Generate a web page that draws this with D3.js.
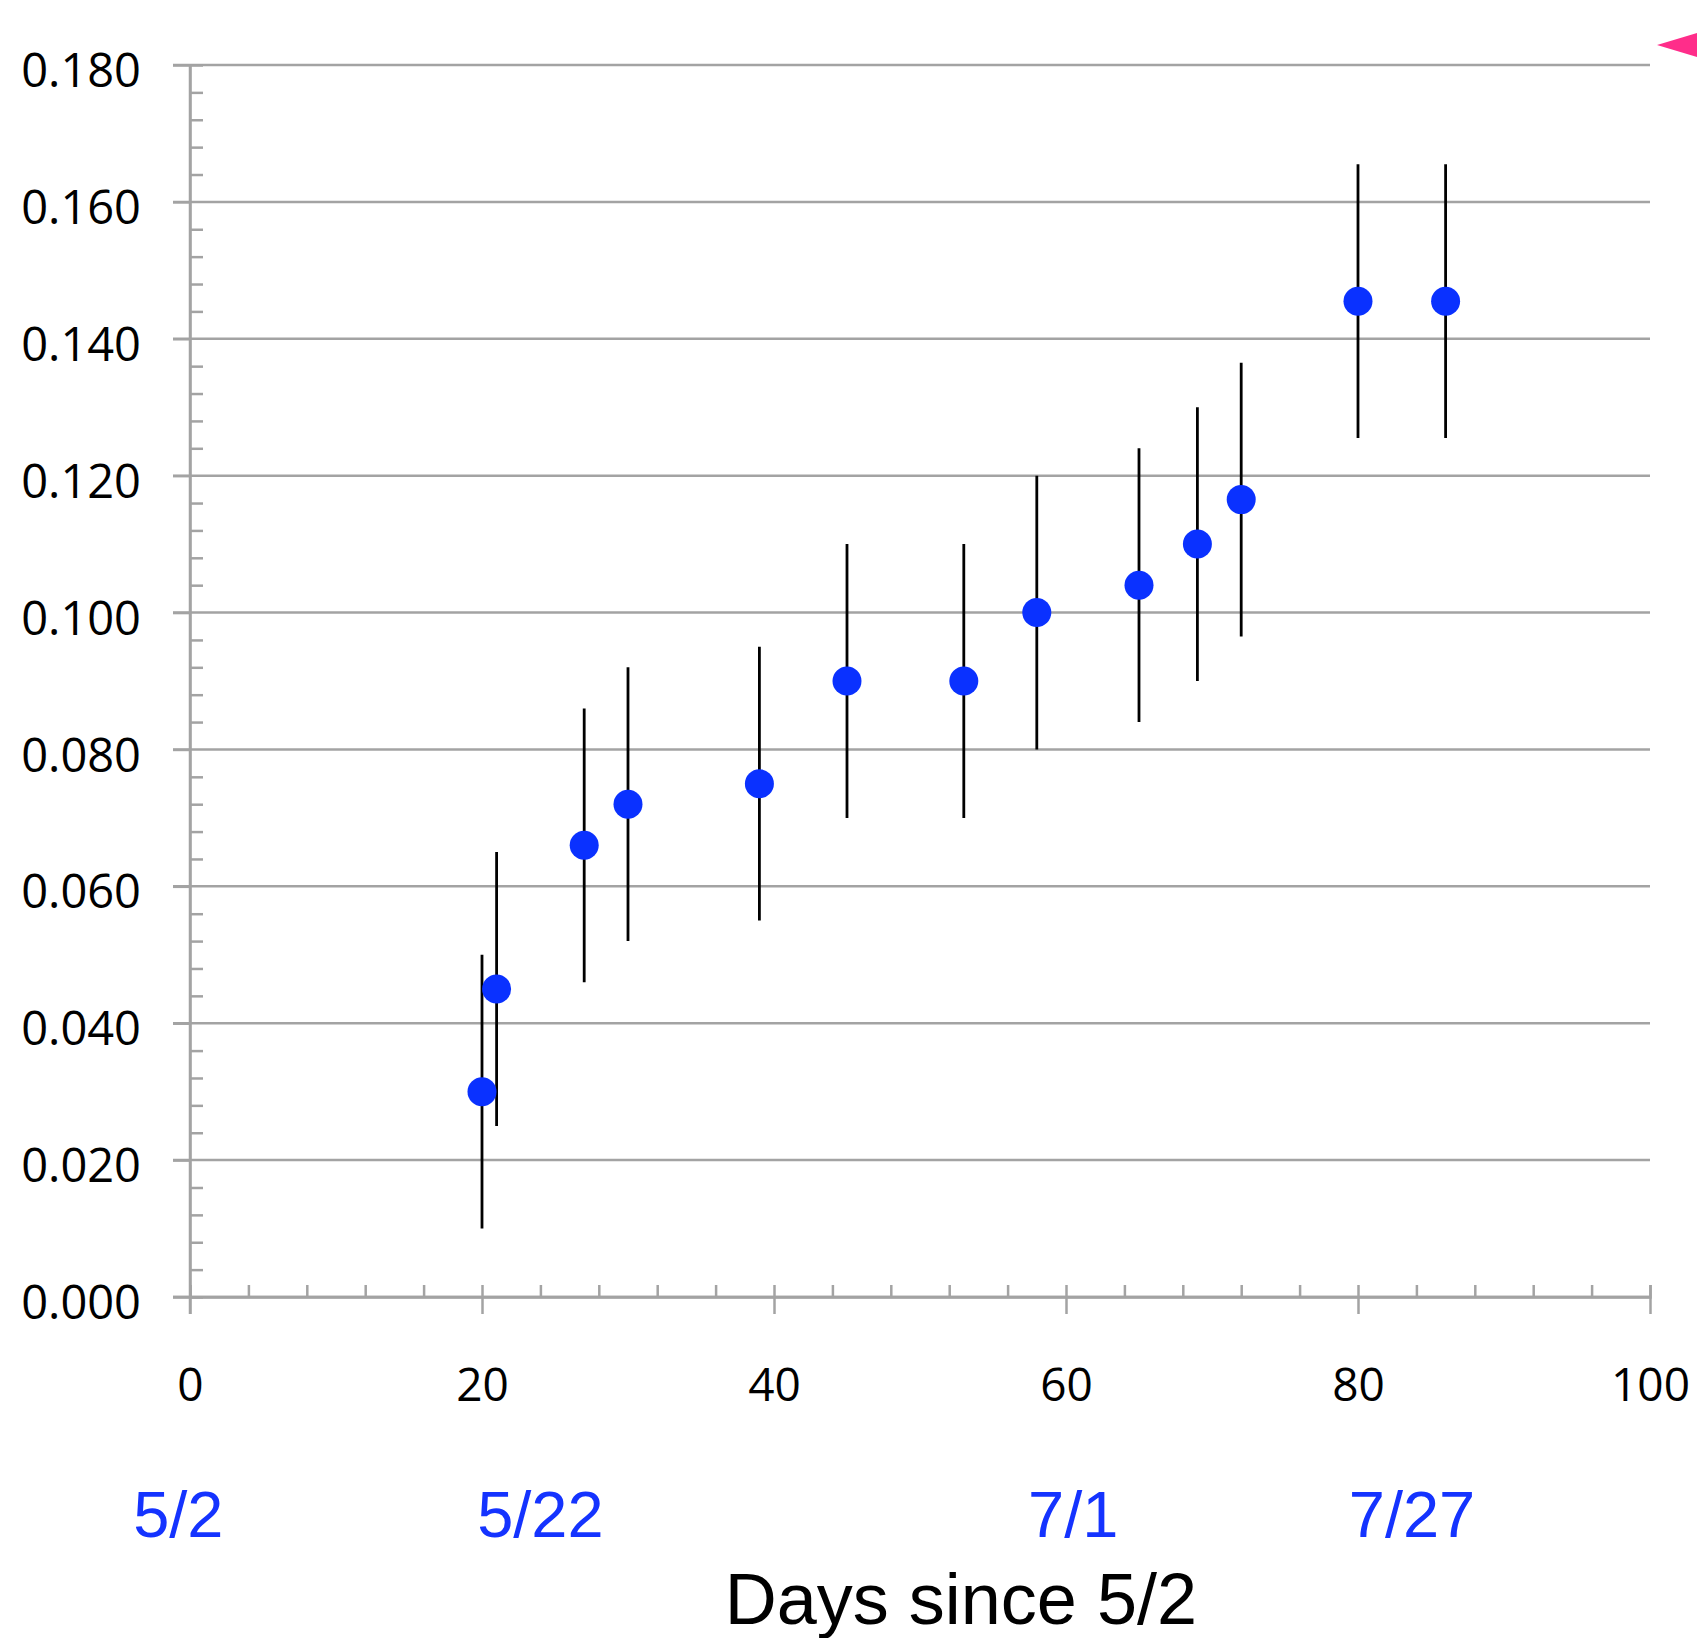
<!DOCTYPE html>
<html>
<head>
<meta charset="utf-8">
<script src="https://cdn.jsdelivr.net/npm/d3@7"></script>
<style>
  html, body { margin: 0; padding: 0; background: #fff; }
  svg { display: block; }
  .tick text { font-family: "Open Sans", sans-serif; }
</style>
</head>
<body>
<div id="chart"></div>
<script>
// days since 5/2, mean value, error half-width
const days = [20, 21, 27, 30, 39, 45, 53, 58, 65, 69, 72, 80, 86];
const values = [0.030, 0.045, 0.066, 0.072, 0.075, 0.090, 0.090, 0.100, 0.104, 0.110, 0.1165, 0.1455, 0.1455];
const errors = [0.020, 0.020, 0.020, 0.020, 0.020, 0.020, 0.020, 0.020, 0.020, 0.020, 0.020, 0.020, 0.020];

const xTicks = [0, 20, 40, 60, 80, 100];
const yTicks = [0, 0.02, 0.04, 0.06, 0.08, 0.10, 0.12, 0.14, 0.16, 0.18];
const dateLabels = ['5/2', '5/22', '7/1', '7/27'];
const dateLabelAt = [-0.8, 24, 60.5, 83.7];

const width = 1697, height = 1638;
const margin = {top: 65, right: 47, bottom: 341, left: 190};
const innerW = width - margin.left - margin.right,
    innerH = height - margin.top - margin.bottom;

const x = d3.scaleLinear().domain([0, 100]).range([0, innerW]);
const y = d3.scaleLinear().domain([0, 0.18]).range([innerH, 0]);

const gridColor = '#a3a3a3';

const svg = d3.select('#chart')
    .append('svg')
    .attr('width', width)
    .attr('height', height);

const g = svg.append('g')
    .attr('transform', `translate(${margin.left}, ${margin.top})`);

// horizontal gridlines
g.append('g')
    .selectAll('line')
    .data(yTicks)
    .enter().append('line')
    .attr('x1', -17)
    .attr('x2', innerW)
    .attr('y1', d => y(d))
    .attr('y2', d => y(d))
    .attr('stroke', gridColor)
    .attr('stroke-width', 2.5);

// y axis: major labels + minor inside ticks
const yAxis = g.append('g')
    .call(d3.axisLeft(y)
        .tickValues(yTicks)
        .tickSize(17)
        .tickPadding(32)
        .tickFormat(d3.format('.3f')));
yAxis.selectAll('.tick text')
    .attr('dy', '0.46em')
    .attr('font-size', 47)
    .attr('fill', '#000');

const yMinor = d3.range(0, 45).map(i => i * 0.004).filter((d, i) => i % 5 !== 0);
g.append('g')
    .call(d3.axisRight(y).tickValues(yMinor).tickSize(13).tickFormat(''));

// x axis: major crossing ticks + minor upward ticks
const xAxis = g.append('g')
    .attr('transform', `translate(0, ${innerH})`)
    .call(d3.axisBottom(x).tickValues(xTicks).tickSize(17).tickFormat(d3.format('d')));
xAxis.selectAll('.tick line').attr('y1', -12);
xAxis.selectAll('.tick text')
    .attr('y', 104)
    .attr('dy', 0)
    .attr('font-size', 46)
    .attr('fill', '#000');

const xMinor = d3.range(0, 26).map(i => i * 4).filter(d => d % 20 !== 0);
g.append('g')
    .attr('transform', `translate(0, ${innerH})`)
    .call(d3.axisTop(x).tickValues(xMinor).tickSize(12).tickFormat(''));

g.selectAll('.domain, .tick line')
    .attr('stroke', gridColor)
    .attr('stroke-width', 2.5);

// extend the y axis line from top down through the x-axis major tick
g.select('.domain').attr('d', null);
g.append('line')
    .attr('x1', 0).attr('x2', 0)
    .attr('y1', 0).attr('y2', innerH + 17)
    .attr('stroke', gridColor)
    .attr('stroke-width', 2.5);
xAxis.select('.domain').remove();
g.append('line')
    .attr('x1', -17).attr('x2', innerW)
    .attr('y1', innerH).attr('y2', innerH)
    .attr('stroke', gridColor)
    .attr('stroke-width', 2.5);

// error bars
const points = days.map((d, i) => ({day: d, value: values[i], err: errors[i]}));

g.append('g')
    .selectAll('line')
    .data(points)
    .enter().append('line')
    .attr('x1', d => x(d.day))
    .attr('x2', d => x(d.day))
    .attr('y1', d => y(d.value + d.err))
    .attr('y2', d => y(d.value - d.err))
    .attr('stroke', '#000')
    .attr('stroke-width', 2.8);

g.append('g')
    .selectAll('circle')
    .data(points)
    .enter().append('circle')
    .attr('cx', d => x(d.day))
    .attr('cy', d => y(d.value))
    .attr('r', 14.5)
    .attr('fill', '#0a31ff');

// blue date labels
g.append('g')
    .selectAll('text')
    .data(dateLabels)
    .enter().append('text')
    .attr('x', (d, i) => x(dateLabelAt[i]))
    .attr('y', innerH + 240)
    .attr('text-anchor', 'middle')
    .attr('font-family', '"Liberation Sans", Arial, sans-serif')
    .attr('font-size', 65)
    .attr('fill', '#1433ff')
    .text(d => d);

// axis title
g.append('text')
    .attr('x', x(52.8))
    .attr('y', innerH + 327)
    .attr('text-anchor', 'middle')
    .attr('font-family', '"Liberation Sans", Arial, sans-serif')
    .attr('font-size', 72)
    .attr('fill', '#000')
    .text('Days since 5/2');

// pink pointer in the top right corner
svg.append('path')
    .attr('d', 'M1657,45 L1697,33 L1697,57 Z')
    .attr('fill', '#ff2d8a');
</script>
</body>
</html>
